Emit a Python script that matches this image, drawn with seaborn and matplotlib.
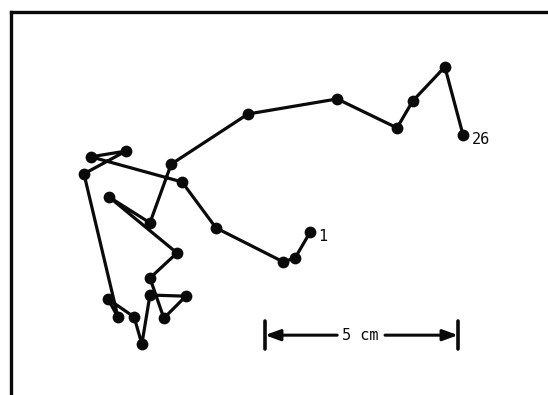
import matplotlib
matplotlib.use("Agg")
import matplotlib.pyplot as plt
import seaborn as sns
import pandas as pd

# ================= Data (cm, origin at lower-left of frame) =================
STEP = list(range(1, 27))
X_CM = [7.75, 7.36, 7.05, 5.31, 4.43, 2.07, 2.98, 1.89, 2.77, 2.51,
        3.19, 3.39, 3.60, 4.53, 3.96, 3.60, 4.30, 2.54, 3.60, 4.15,
        6.14, 8.45, 10.00, 10.41, 11.24, 11.71]
Y_CM = [4.22, 3.55, 3.45, 4.33, 5.52, 6.17, 6.32, 5.73, 2.02, 2.49,
        2.02, 1.32, 2.59, 2.56, 1.99, 3.03, 3.68, 5.13, 4.46, 5.98,
        7.28, 7.67, 6.92, 7.62, 8.50, 6.74]
END_LABELS = {1: "1", 26: "26"}

SCALE_START = 6.58
SCALE_LEN = 5.0
SCALE_Y = 1.55
SCALE_TEXT = "5 cm"

# ================= Style =================
sns.set_style("white")
plt.rcParams["font.family"] = ["DejaVu Sans Mono"]
INK = "#0a0a0a"

df = pd.DataFrame({"step": STEP, "x": X_CM, "y": Y_CM})

fig = plt.figure(figsize=(5.48, 3.95), dpi=100)
ax = fig.add_axes([11 / 548, 0, 537 / 548, 383 / 395])

sns.lineplot(data=df, x="x", y="y", sort=False, estimator=None,
             color=INK, linewidth=2.3, ax=ax)
sns.scatterplot(data=df, x="x", y="y", color=INK, s=72,
                edgecolor=INK, linewidth=0, zorder=3, ax=ax)

# end labels
for step, lab in END_LABELS.items():
    row = df[df["step"] == step].iloc[0]
    ax.text(row["x"] + 0.22, row["y"] - 0.12, lab, fontsize=11,
            color=INK, ha="left", va="center")

# scale bar
x0, x1 = SCALE_START, SCALE_START + SCALE_LEN
xm = (x0 + x1) / 2 - 0.03
ax.text(xm, SCALE_Y, SCALE_TEXT, fontsize=11, color=INK,
        ha="center", va="center")
arrow = dict(arrowstyle="-|>,head_length=0.9,head_width=0.33",
             color=INK, lw=2.2, shrinkA=0, shrinkB=0)
ax.annotate("", xy=(x0, SCALE_Y), xytext=(xm - 0.6, SCALE_Y), arrowprops=arrow)
ax.annotate("", xy=(x1, SCALE_Y), xytext=(xm + 0.64, SCALE_Y), arrowprops=arrow)
ax.plot([x0, x0], [SCALE_Y - 0.36, SCALE_Y + 0.36], color=INK, lw=2.6)
ax.plot([x1, x1], [SCALE_Y - 0.36, SCALE_Y + 0.36], color=INK, lw=2.6)

ax.set_xlim(0, 537 / 38.6)
ax.set_ylim(0, 383 / 38.6)
ax.set_xticks([])
ax.set_yticks([])
ax.set_xlabel("")
ax.set_ylabel("")
for side in ["right", "bottom"]:
    ax.spines[side].set_visible(False)
for side in ["left", "top"]:
    ax.spines[side].set_color(INK)
    ax.spines[side].set_linewidth(2.4)

fig.savefig("out.png", dpi=100)
